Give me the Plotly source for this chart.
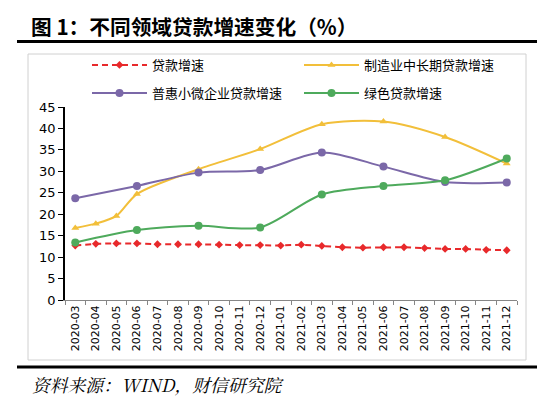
import plotly.graph_objects as go

months = ["2020-03","2020-04","2020-05","2020-06","2020-07","2020-08","2020-09","2020-10",
          "2020-11","2020-12","2021-01","2021-02","2021-03","2021-04","2021-05","2021-06",
          "2021-07","2021-08","2021-09","2021-10","2021-11","2021-12"]

loan_growth = [12.7,13.1,13.2,13.2,13.0,13.0,13.0,12.9,12.8,12.8,12.7,12.9,
               12.6,12.3,12.2,12.3,12.3,12.1,11.9,11.9,11.7,11.6]
manuf_mlt = [16.8,17.8,19.6,24.7,None,None,30.5,None,None,35.2,None,None,
             41.0,None,None,41.6,None,None,38.0,None,None,31.8]
inclusive_sme = [23.7,None,None,26.6,None,None,29.7,None,None,30.3,None,None,
                 34.4,None,None,31.1,None,None,27.5,None,None,27.4]
green_loan = [13.4,None,None,16.3,None,None,17.3,None,None,16.9,None,None,
              24.6,None,None,26.6,None,None,27.9,None,None,33.0]

names = ["贷款增速","制造业中长期贷款增速","普惠小微企业贷款增速","绿色贷款增速"]
yticks = [0,5,10,15,20,25,30,35,40,45]

W, H = 550, 403
OFF = 8  # page body margin offset
# plot area in screen pixels: x 65..517, y 107..300
L, R, T, B = 65 - OFF, W - (517 - OFF), 107 - OFF, H - (300 - OFF)
PW, PH = W - L - R, H - T - B

def px(x):
    return (x - OFF - L) / PW

def py(y):
    return (H - B - (y - OFF)) / PH

CJK = "Noto Sans CJK SC"
fig = go.Figure()

fig.add_trace(go.Scatter(x=months, y=loan_growth, name=names[0], mode="lines+markers",
                         line=dict(color="#E8292B", width=2, dash="6px,4px"),
                         marker=dict(symbol="diamond", size=6, color="#E8292B"),
                         legend="legend"))
fig.add_trace(go.Scatter(x=months, y=manuf_mlt, name=names[1], mode="lines+markers",
                         connectgaps=True,
                         line=dict(color="#F2BF3A", width=2, shape="spline", smoothing=0.8),
                         marker=dict(symbol="triangle-up", size=7, color="#F2BF3A"),
                         legend="legend"))
fig.add_trace(go.Scatter(x=months, y=inclusive_sme, name=names[2], mode="lines+markers",
                         connectgaps=True,
                         line=dict(color="#7B68A8", width=2, shape="spline", smoothing=0.8),
                         marker=dict(symbol="circle", size=8, color="#7B68A8"),
                         legend="legend2"))
fig.add_trace(go.Scatter(x=months, y=green_loan, name=names[3], mode="lines+markers",
                         connectgaps=True,
                         line=dict(color="#4EAA5C", width=2, shape="spline", smoothing=0.8),
                         marker=dict(symbol="circle", size=8, color="#4EAA5C"),
                         legend="legend2"))

shapes = [
    dict(type="line", xref="paper", yref="paper", x0=px(17), x1=px(537), y0=py(41.5), y1=py(41.5),
         line=dict(color="black", width=3)),
    dict(type="line", xref="paper", yref="paper", x0=px(17), x1=px(537), y0=py(367), y1=py(367),
         line=dict(color="black", width=3)),
    dict(type="rect", xref="paper", yref="paper", x0=px(28), x1=px(526), y0=py(54), y1=py(360),
         line=dict(color="#D0D0D0", width=1), layer="below"),
]

annotations = [
    dict(text="<b>图 1：不同领域贷款增速变化（%）</b>", xref="paper", yref="paper",
         x=px(29), y=py(25.5), xanchor="left", yanchor="middle", showarrow=False,
         font=dict(family=CJK, size=20.7, color="black")),
    dict(text="<i>资料来源：WIND，财信研究院</i>", xref="paper", yref="paper",
         x=px(30), y=py(384), xanchor="left", yanchor="middle", showarrow=False,
         font=dict(family="Noto Serif CJK SC, Liberation Serif, " + CJK, size=17.8, color="black")),
]

legend_common = dict(orientation="h", xanchor="left", yanchor="middle",
                     font=dict(family=CJK, size=13, color="black"),
                     entrywidth=142, entrywidthmode="pixels", itemwidth=55,
                     bgcolor="rgba(0,0,0,0)", itemclick=False, itemdoubleclick=False)

fig.update_layout(
    width=W, height=H,
    margin=dict(l=L, r=R, t=T, b=B),
    paper_bgcolor="white", plot_bgcolor="white",
    showlegend=True,
    legend=dict(x=px(87), y=py(65), **legend_common),
    legend2=dict(x=px(87), y=py(93), **legend_common),
    shapes=shapes,
    annotations=annotations,
    xaxis=dict(type="category", categoryorder="array", categoryarray=months,
               tickangle=-90, tickfont=dict(family="DejaVu Sans", size=11, color="black"),
               showline=True, linecolor="#868686", linewidth=1,
               ticks="outside", ticklen=4, tickcolor="#868686", tickson="boundaries",
               showgrid=False, zeroline=False, range=[-0.5, len(months) - 0.5]),
    yaxis=dict(range=[0, 45], tickvals=yticks, ticktext=[str(v) for v in yticks],
               tickfont=dict(family="DejaVu Sans", size=13, color="black"),
               showline=True, linecolor="black", linewidth=1.5,
               ticks="outside", ticklen=5, tickcolor="black",
               showgrid=False, zeroline=False),
)

fig.write_html("out.html")
